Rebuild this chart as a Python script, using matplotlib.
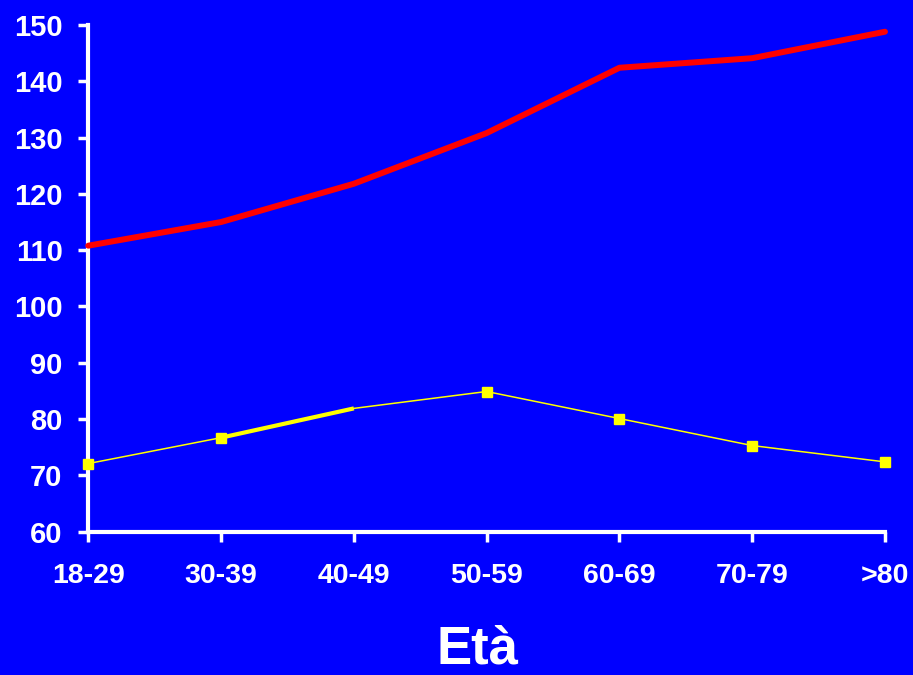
import matplotlib.pyplot as plt


AGE_GROUPS = ["18-29", "30-39", "40-49", "50-59", "60-69", "70-79", ">80"]
RED_SERIES = [110.8, 115.0, 121.8, 130.8, 142.4, 144.1, 148.8]
YELLOW_SERIES = [72.1, 76.7, 81.9, 84.9, 80.1, 75.3, 72.4]
Y_TICKS = [60, 70, 80, 90, 100, 110, 120, 130, 140, 150]

BG = "#0000FF"


def main() -> None:
    plt.rcParams["font.family"] = ["Liberation Sans", "DejaVu Sans"]
    fig = plt.figure(figsize=(9.13, 6.75), dpi=100, facecolor=BG)
    ax = fig.add_axes([0.0967, 0.2123, 0.8726, 0.7507])
    ax.set_facecolor(BG)

    x = list(range(len(AGE_GROUPS)))
    ax.plot(x, RED_SERIES, color="#FF0000", linewidth=4.3, solid_capstyle="round",
            solid_joinstyle="round", clip_on=False, zorder=3)

    # thin yellow line, heavier stroke between the 2nd and 3rd group
    ax.plot(x, YELLOW_SERIES, color="#FFFF00", linewidth=1.1, clip_on=False, zorder=3)
    ax.plot(x[1:3], YELLOW_SERIES[1:3], color="#FFFF00", linewidth=3.0,
            solid_capstyle="butt", clip_on=False, zorder=3)
    marked = [i for i in x if i != 2]
    ax.plot([x[i] for i in marked], [YELLOW_SERIES[i] for i in marked], linestyle="none",
            marker="s", markersize=6.5, color="#FFFF00", clip_on=False, zorder=4)

    ax.set_xlim(0, len(AGE_GROUPS) - 1)
    ax.set_ylim(60, 150)
    ax.set_xticks(x)
    ax.set_xticklabels(AGE_GROUPS)
    ax.set_yticks(Y_TICKS)

    for side in ("top", "right"):
        ax.spines[side].set_visible(False)
    for side in ("left", "bottom"):
        ax.spines[side].set_color("white")
        ax.spines[side].set_linewidth(3)
        ax.spines[side].set_capstyle("projecting")

    ax.tick_params(axis="both", colors="white", length=7.5, width=2.5)
    ax.tick_params(axis="y", pad=11, labelsize=21)
    ax.tick_params(axis="x", pad=15, labelsize=20.5)
    for lab in ax.get_xticklabels() + ax.get_yticklabels():
        lab.set_fontweight("bold")

    fig.text(477 / 913, 0.001, "Età", color="white", fontsize=38, fontweight="bold",
             ha="center", va="bottom")

    fig.savefig("out.png", dpi=100, facecolor=BG)


if __name__ == "__main__":
    main()
